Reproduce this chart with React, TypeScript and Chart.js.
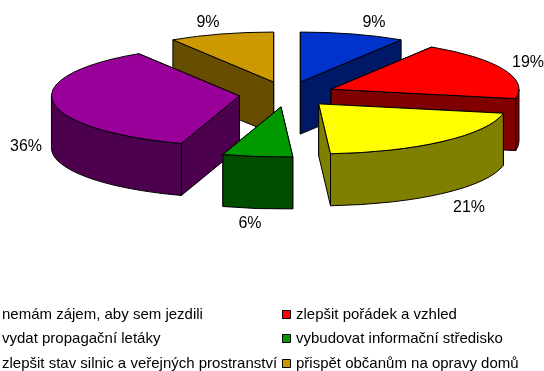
import React, { useEffect, useRef } from "react";
import { Chart, registerables } from "chart.js";

Chart.register(...registerables);

const categories = [
  "nemám zájem, aby sem jezdili",
  "zlepšit pořádek a vzhled",
  "vydat propagační letáky",
  "vybudovat informační středisko",
  "zlepšit stav silnic a veřejných prostranství",
  "přispět občanům na opravy domů",
];
const shares = [9, 19, 21, 6, 36, 9];
const topColors = ["#0033CC", "#FF0000", "#FFFF00", "#009900", "#990099", "#CC9900"];
const sideColors = ["#001966", "#800000", "#808000", "#004D00", "#4D004D", "#664D00"];

// Layout only (the projection of the pie and where text sits)
const PIE = { cx: 287, cy: 94.3, rx: 188, ry: 50, explode: 0.255, depth: 52 };
const labelSpots = [
  [374, 23],
  [528, 63],
  [469, 208],
  [250, 224],
  [26, 147],
  [208, 23],
];
const legendSpots = [
  [2, 315],
  [296, 315],
  [2, 339],
  [296, 339],
  [2, 364],
  [296, 364],
];
const FONT = '"Liberation Sans", Arial, sans-serif';

const pie3d = {
  id: "pie3d",
  beforeDatasetDraw(chart: any) {
    const ctx = chart.ctx;
    const meta = chart.getDatasetMeta(0);
    const { rx, ry, depth, explode } = PIE;
    const slices = meta.data.map((arc: any, i: number) => {
      const a0 = arc.startAngle;
      const a1 = arc.endAngle;
      const mid = (a0 + a1) / 2;
      return {
        i,
        a0,
        a1,
        mid,
        x: PIE.cx + Math.cos(mid) * rx * explode,
        y: PIE.cy + Math.sin(mid) * ry * explode,
      };
    });
    slices.sort((p: any, q: any) => Math.sin(p.mid) - Math.sin(q.mid));

    ctx.save();
    ctx.lineWidth = 1;
    ctx.lineJoin = "round";
    ctx.strokeStyle = "#000";
    const paint = (fill: string) => {
      ctx.fillStyle = fill;
      ctx.fill();
      ctx.stroke();
    };
    for (const s of slices) {
      const side = sideColors[s.i];
      // radial cut faces, the one further back first
      const faces = [s.a0, s.a1].sort((p, q) => Math.sin(p) - Math.sin(q));
      for (const a of faces) {
        const px = s.x + Math.cos(a) * rx;
        const py = s.y + Math.sin(a) * ry;
        ctx.beginPath();
        ctx.moveTo(s.x, s.y);
        ctx.lineTo(px, py);
        ctx.lineTo(px, py + depth);
        ctx.lineTo(s.x, s.y + depth);
        ctx.closePath();
        paint(side);
      }
      // outer wall: only the part of the rim that faces the viewer
      const w0 = Math.max(s.a0, 0);
      const w1 = Math.min(s.a1, Math.PI);
      if (w1 > w0) {
        ctx.beginPath();
        ctx.ellipse(s.x, s.y, rx, ry, 0, w0, w1);
        ctx.lineTo(s.x + Math.cos(w1) * rx, s.y + Math.sin(w1) * ry + depth);
        ctx.ellipse(s.x, s.y + depth, rx, ry, 0, w1, w0, true);
        ctx.closePath();
        paint(side);
      }
      // top
      ctx.beginPath();
      ctx.moveTo(s.x, s.y);
      ctx.ellipse(s.x, s.y, rx, ry, 0, s.a0, s.a1);
      ctx.closePath();
      paint(topColors[s.i]);
    }

    // value labels
    ctx.fillStyle = "#000";
    ctx.textAlign = "center";
    ctx.textBaseline = "middle";
    ctx.font = `16px ${FONT}`;
    shares.forEach((v, i) => {
      ctx.fillText(`${v}%`, labelSpots[i][0], labelSpots[i][1]);
    });

    // legend: the left column's markers fall off the canvas, as in the picture
    ctx.font = `15px ${FONT}`;
    ctx.textAlign = "left";
    categories.forEach((name, i) => {
      const [tx, ty] = legendSpots[i];
      ctx.fillStyle = topColors[i];
      ctx.fillRect(tx - 14, ty - 5, 8, 9);
      ctx.strokeStyle = "#000";
      ctx.strokeRect(tx - 14 + 0.5, ty - 5 + 0.5, 8, 8);
      ctx.fillStyle = "#000";
      ctx.fillText(name, tx, ty);
    });
    ctx.restore();
    return false;
  },
};

export default function App() {
  const ref = useRef<HTMLCanvasElement>(null);
  useEffect(() => {
    const chart = new Chart(ref.current!, {
      type: "pie",
      data: {
        labels: categories,
        datasets: [{ data: shares, backgroundColor: topColors }],
      },
      options: {
        animation: false,
        responsive: false,
        plugins: { legend: { display: false }, tooltip: { enabled: false } },
      },
      plugins: [pie3d],
    } as any);
    return () => chart.destroy();
  }, []);
  return (
    <canvas
      ref={ref}
      width={544}
      height={371}
      style={{ position: "absolute", left: 0, top: 0, display: "block", width: 544, height: 371 }}
    />
  );
}
